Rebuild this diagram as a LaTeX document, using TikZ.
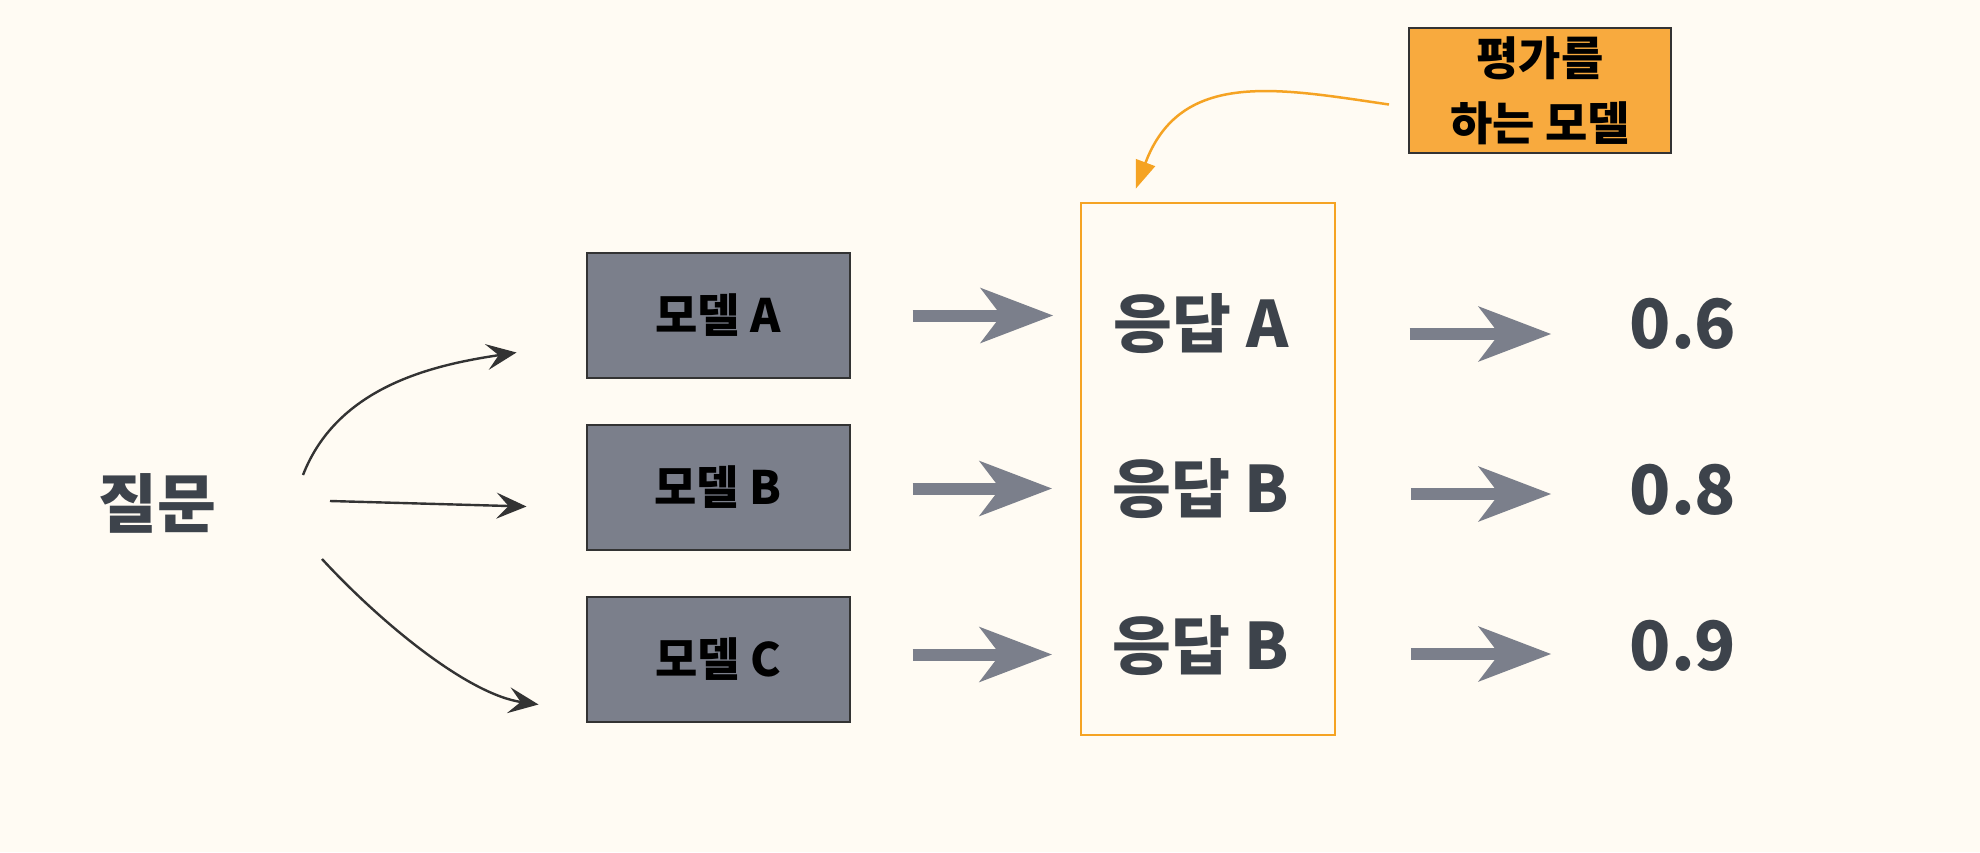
\documentclass[tikz,border=0pt]{standalone}
\usepackage{fontspec}
\setmainfont{Noto Sans CJK KR}
\usetikzlibrary{arrows.meta,calc}
\definecolor{paper}{RGB}{255,251,243}
\definecolor{slate}{RGB}{123,127,139}
\definecolor{ink}{RGB}{61,67,75}
\definecolor{edge}{RGB}{51,51,51}
\definecolor{amber}{RGB}{245,163,35}
\definecolor{amberfill}{RGB}{248,170,62}
\tikzset{
	model/.style={draw=edge, line width=1pt, fill=slate, minimum width=131.5pt, minimum height=62.5pt, font=\fontsize{23}{28}\selectfont\bfseries},
	saytext/.style={text=ink, inner sep=0pt, font=\fontsize{32}{38}\selectfont\bfseries},
	score/.style={text=ink, inner sep=0pt, font=\fontsize{34}{40}\selectfont\bfseries},
	fatarrow/.style={slate, line width=6pt, -{Stealth[length=36pt,width=27pt,inset=10pt]}},
	thinarrow/.style={edge, line width=1.2pt, -{Stealth[length=15pt,width=13pt,inset=6pt]}},
}
\begin{document}
\begin{tikzpicture}[x=0.5pt, y=-0.5pt]
		\useasboundingbox (0,0) rectangle (1980,852);
		\fill[paper] (0,0) rectangle (1980,852);
		\node[saytext] (q) at (157, 503) {질문};
		\node[model] (mA) at (718, 315.5) {모델 A};
		\node[model] (mB) at (718, 487.5) {모델 B};
		\node[model] (mC) at (718, 659.5) {모델 C};
		\node[draw=amber, line width=1.25pt, minimum width=127pt, minimum height=266pt] (eval) at (1208, 469) {};
		\node[saytext] (rA) at (1201, 324) {응답 A};
		\node[saytext] (rB) at (1201, 489) {응답 B};
		\node[saytext] (rC) at (1201, 646) {응답 B};
		\node[score] (sA) at (1683, 324) {0.6};
		\node[score] (sB) at (1683, 490) {0.8};
		\node[score] (sC) at (1683, 646) {0.9};
		\node[draw=edge, line width=1pt, fill=amberfill, minimum width=131pt, minimum height=62.5pt, align=center, font=\fontsize{23}{32.5}\selectfont\bfseries] (judge) at (1540, 90.5) {평가를\\하는 모델};
		\draw[thinarrow] ($(q)+(146,-28)$) .. controls +(35,-90) and +(-80,12) .. ($(mA.west)+(-69,37)$);
		\draw[thinarrow] ($(q)+(173,-2)$) -- ($(mB.west)+(-59,19)$);
		\draw[thinarrow] ($(q)+(165,56)$) .. controls +(60,65) and +(-70,-10) .. ($(mC.west)+(-47,45)$);
		\draw[fatarrow] ($(mA.east)+(62,0)$) -- ($(mA.east -| rA.west)+(-60,0)$);
		\draw[fatarrow] ($(mB.east)+(62,1)$) -- ($(mB.east -| rB.west)+(-60,1)$);
		\draw[fatarrow] ($(mC.east)+(62,-5)$) -- ($(mC.east -| rC.west)+(-60,-5)$);
		\draw[fatarrow] ($(rA.east)+(121,10)$) -- ($(rA.east -| sA.west)+(-78,10)$);
		\draw[fatarrow] ($(rB.east)+(121,5)$) -- ($(rB.east -| sB.west)+(-78,5)$);
		\draw[fatarrow] ($(rC.east)+(121,8)$) -- ($(rC.east -| sC.west)+(-78,8)$);
		\draw[amber, line width=1.25pt, -{Triangle[length=14pt,width=10pt]}] ($(judge.west)+(-19,14)$) .. controls +(-110,-16) and +(45,-120) .. ($(eval.north west)+(56,-13)$);
	\end{tikzpicture}
\end{document}
